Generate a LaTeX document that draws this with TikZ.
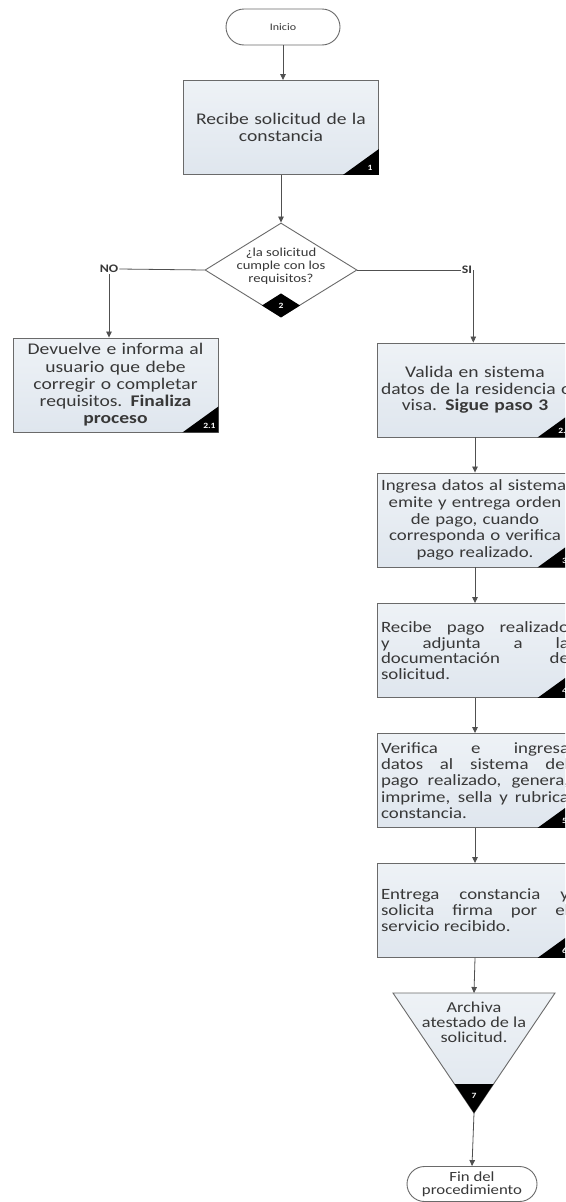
\documentclass[tikz,border=0pt]{standalone}
\usepackage{fontspec}
\setmainfont[FakeStretch=1.2]{Carlito}
\usetikzlibrary{shapes.geometric,shapes.misc,arrows.meta,calc}
\definecolor{boxfill}{HTML}{DFE6EE}
\definecolor{boxtop}{HTML}{EEF2F6}
\definecolor{edge}{HTML}{6A6A6A}
\definecolor{ink}{HTML}{383838}
\definecolor{wire}{HTML}{505050}
\newcommand\cornertag[2]{%
  \fill[black] ($(#1.south east)+(-36,0)$) -- (#1.south east) -- ($(#1.south east)+(0,-26)$) -- cycle;
  \node[tagnum] (#1n) at ($(#1.south east)+(-9,-7)$) {#2};}
\begin{document}
\begin{tikzpicture}[x=1pt,y=-1pt,
  procbox/.style={draw=edge, line width=0.9pt, top color=boxtop, bottom color=boxfill,
    minimum height=94pt, minimum width=196pt, inner sep=4pt, text=ink},
  termbox/.style={draw=edge, line width=0.9pt, fill=white, rounded rectangle, text=ink, inner sep=1pt},
  tagnum/.style={text=white, font=\fontsize{8}{9}\selectfont\bfseries, inner sep=0pt},
  arrow/.style={draw=wire, line width=0.8pt, -{Triangle[width=5.5pt,length=6pt]}},
  wireline/.style={draw=wire, line width=0.8pt},
  lbl/.style={text=ink, font=\fontsize{11.5}{12}\selectfont\bfseries, inner sep=1pt}]
\useasboundingbox (0,0) rectangle (565,1202);
\clip (0,0) rectangle (565,1202);
\fill[white] (0,0) rectangle (565,1202);

% Inicio
\node[termbox, minimum width=116pt, minimum height=36pt, font=\fontsize{10}{11}\selectfont] (ini) at (283,27) {Inicio};

% Step 1
\node[procbox, minimum width=195pt, text width=185pt, align=center,
  font=\fontsize{16.3}{17.5}\selectfont] (b1) at (281,127.5) {Recibe solicitud de la\\constancia};
\cornertag{b1}{1}

% Decision
\node[draw=edge, line width=0.9pt, fill=white, diamond, minimum width=152pt, minimum height=94pt, inner sep=0pt] (d) at (281,270) {};
\fill[black] (d.south) -- ($(d.south)+(-19,-12)$) -- ($(d.south)+(0,-24)$) -- ($(d.south)+(19,-12)$) -- cycle;
\node[tagnum] (dn) at ($(d.south)+(0,-12)$) {2};
\node[text=ink, align=center, font=\fontsize{12.2}{13.2}\selectfont, inner sep=0pt] (dtext) at (281,266) {¿la solicitud\\cumple con los\\requisitos?};

% Labels NO / SI
\node[lbl] (no) at (109,269) {NO};
\node[lbl] (si) at (467,270) {SI};

% Step 2.1
\node[procbox, minimum width=205pt, text width=197pt, align=center,
  font=\fontsize{16.3}{17.3}\selectfont] (b21) at (115.5,385) {Devuelve e informa al\\usuario que debe\\corregir o completar\\requisitos. \textbf{Finaliza}\\\textbf{proceso}};
\cornertag{b21}{2.1}

% Step 2.2
\node[procbox, text width=188pt, align=center,
  font=\fontsize{16.3}{16.3}\selectfont] (b22) at (475,390) {Valida en sistema\\\mbox{datos de la residencia o}\\visa. \textbf{Sigue paso 3}};
\cornertag{b22}{2.2}

% Step 3
\node[procbox, text width=188pt, align=center,
  font=\fontsize{15.7}{16.6}\selectfont] (b3) at (475,520) {\mbox{Ingresa datos al sistema,}\\emite y entrega orden\\de pago, cuando\\corresponda o verifica\\pago realizado.};
\cornertag{b3}{3}

% Step 4
\node[procbox, text width=188pt, align=justify,
  font=\fontsize{15.7}{15.5}\selectfont] (b4) at (475,650.5) {Recibe pago realizado\linebreak y adjunta a la\linebreak documentación de\linebreak solicitud.};
\cornertag{b4}{4}

% Step 5
\node[procbox, text width=188pt, align=justify,
  font=\fontsize{15.7}{16.2}\selectfont] (b5) at (475,780.5) {Verifica e ingresa\linebreak datos al sistema del\linebreak pago realizado, genera,\linebreak imprime, sella y rubrica\linebreak constancia.};
\cornertag{b5}{5}

% Step 6
\node[procbox, text width=188pt, align=justify,
  font=\fontsize{15.7}{16}\selectfont] (b6) at (475,910.5) {Entrega constancia y\linebreak solicita firma por el\linebreak servicio recibido.};
\cornertag{b6}{6}

% Step 7 (archive triangle)
\coordinate (t7l) at (393,993);
\coordinate (t7r) at (555,993);
\coordinate (t7top) at (474,993);
\coordinate (t7bot) at (474,1113);
\draw[draw=edge, line width=0.9pt, top color=boxtop, bottom color=boxfill] (t7l) -- (t7r) -- (t7bot) -- cycle;
\fill[black] ($(t7bot)+(-19.5,-29)$) -- ($(t7bot)+(19.5,-29)$) -- (t7bot) -- cycle;
\node[tagnum] (t7n) at ($(t7bot)+(0,-17)$) {7};
\node[text=ink, align=center, font=\fontsize{15.2}{15.2}\selectfont, inner sep=0pt] (t7text) at (474,1022) {Archiva\\atestado de la\\solicitud.};

% Fin
\node[termbox, minimum width=132pt, minimum height=35pt, align=center, font=\fontsize{14}{13}\selectfont] (fin) at (472,1184) {Fin del\\procedimiento};

% Connectors
\draw[arrow] (ini.south) -- (ini.south |- b1.north);
\draw[arrow] (b1.south) -- (b1.south |- d.north);
\draw[wireline] (d.west) -- (no.east);
\draw[arrow] (no.south) -- (no.south |- b21.north);
\draw[wireline] (d.east) -- (si.west);
\draw[arrow] (si.east) -- (si.east |- b22.north);
\draw[arrow] (b22.south) -- (b3.north);
\draw[arrow] (b3.south) -- (b4.north);
\draw[arrow] (b4.south) -- (b5.north);
\draw[arrow] (b5.south) -- (b6.north);
\draw[arrow] (b6.south) -- (t7top);
\draw[arrow] (t7bot) -- (fin.north);
\end{tikzpicture}
\end{document}
